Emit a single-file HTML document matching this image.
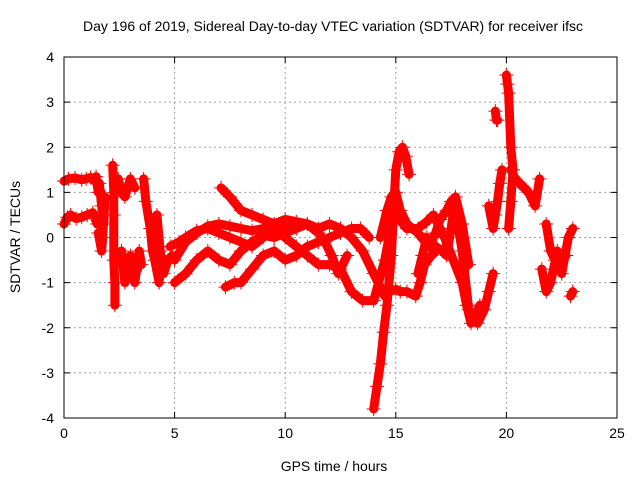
<!DOCTYPE html>
<html><head><meta charset="utf-8"><style>
body{margin:0;background:#fff}
svg{display:block;font-family:"Liberation Sans",sans-serif}
</style></head><body>
<svg id="chart" width="640" height="480">
<text x="333" y="31" font-size="14" text-anchor="middle">Day 196 of 2019, Sidereal Day-to-day VTEC variation (SDTVAR) for receiver ifsc</text>
<text x="334" y="471" font-size="14" text-anchor="middle">GPS time / hours</text>
<text transform="translate(20,237) rotate(-90)" font-size="14" text-anchor="middle">SDTVAR / TECUs</text>
<g id="grid"></g><g id="ticks"></g><g id="marks"></g>
<rect x="64" y="57" width="553" height="361" fill="none" stroke="#000" stroke-width="1"/>
</svg>
<script>
const xTicks=[0,5,10,15,20,25];
const yTicks=[-4,-3,-2,-1,0,1,2,3,4];
const trackA=[[0,1.25],[0.2,1.3],[0.5,1.32],[0.8,1.28],[1,1.3],[1.2,1.33],[1.4,1.25]];
const trackB=[[0,0.3],[0.15,0.45],[0.3,0.5],[0.55,0.42],[0.8,0.45],[1.05,0.5],[1.3,0.55],[1.5,0.3]];
const trackC=[[1.45,1.35],[1.55,1.0],[1.6,1.2],[1.7,0.7],[1.8,0.3],[1.85,0.9],[1.75,0.0],[1.7,-0.3],[1.55,0.1]];
const trackD=[[2.2,1.6],[2.25,1.0],[2.25,0.5],[2.25,-0.5],[2.3,-1.0],[2.3,-1.5]];
const trackE=[[2.45,1.3],[2.6,1.0],[2.75,0.9],[3.0,1.3],[3.2,1.1]];
const trackF=[[2.6,-0.3],[2.75,-1.0],[2.9,-0.7],[3.0,-0.4],[3.2,-1.0],[3.4,-0.3],[3.5,-0.6]];
const trackG=[[3.6,1.3],[3.7,0.8],[3.9,0.2],[4.0,-0.3],[4.1,-0.5],[4.3,-1.0]];
const trackH=[[4.2,0.5],[4.35,-0.3],[4.5,-0.8],[4.7,-0.5],[4.9,-0.4]];
const trackT1=[[5,-1.0],[5.5,-0.8],[6,-0.5],[6.5,-0.3],[7,-0.5],[7.5,-0.6],[8,-0.3],[8.5,-0.1],[9,0.05],[9.5,0.0],[10,0.1],[10.5,0.2],[11,0.3],[11.5,0.2],[12,0.3],[12.5,0.2],[13,0.0],[13.5,-0.3],[14,-0.8],[14.5,-1.3]];
const trackT2=[[7.3,-1.1],[7.7,-1.0],[8,-1.0],[8.5,-0.7],[9,-0.4],[9.5,-0.3],[10,-0.5],[10.5,-0.4],[11,-0.2],[11.5,-0.1],[12,0.0],[12.5,0.1],[13,0.2],[13.4,0.2],[13.8,0.0]];
const trackT3=[[4.8,-0.2],[5.2,-0.1],[5.5,0.0],[6,0.15],[6.5,0.2],[7,0.1],[7.5,0.0],[8,-0.1],[8.5,-0.2],[9,0.0],[9.5,0.2],[10,0.0],[10.5,-0.2],[11,-0.4],[11.5,-0.6],[12,-0.6],[12.5,-0.7],[13,-1.2],[13.5,-1.4],[14,-1.4],[14.5,-0.5],[15,0.8],[15.5,0.3]];
const trackT4=[[5,-0.5],[5.5,-0.1],[6,0.1],[6.5,0.25],[7,0.3],[7.5,0.25],[8,0.2],[8.5,0.15],[9,0.2],[9.5,0.3],[10,0.4],[10.5,0.35],[11,0.3],[11.5,0.1],[11.8,-0.1],[12.1,-0.4],[12.4,-0.8],[12.8,-0.4]];
const trackT5=[[7.1,1.1],[7.5,0.9],[8,0.6],[8.5,0.5],[9,0.4],[9.5,0.3],[10,0.2],[10.5,0.2]];
const trackBig=[[14,-3.8],[14.15,-3.3],[14.3,-2.8],[14.45,-2.1],[14.6,-1.5],[14.8,-0.4],[14.9,0.6],[15,1.5],[15.15,1.9],[15.3,2.0],[15.45,1.8],[15.6,1.4]];
const trackLow=[[14.7,-1.2],[15,-1.15],[15.2,-1.2],[15.5,-1.2],[15.9,-1.3],[16.1,-1.0],[16.3,-0.6],[16.6,-0.4],[16.8,-0.3]];
const trackM1=[[14.3,0.0],[14.6,0.6],[14.8,0.9],[15,1.0],[15.2,0.6],[15.5,0.3],[16,0.1],[16.5,-0.2],[16.8,0.1],[17,0.4],[17.3,0.6],[17.5,0.8],[17.8,0.3],[18,-0.3],[18.3,-1.6],[18.5,-1.8],[18.7,-1.9],[19,-1.6],[19.2,-1.2],[19.4,-0.8]];
const trackM2=[[15,0.5],[15.5,0.2],[16,0.2],[16.4,0.35],[16.7,0.5],[17,0.2],[17.2,0.0],[17.6,-0.5],[18,-1.0],[18.2,-1.5],[18.4,-1.9],[18.8,-1.5]];
const trackM3=[[16,-0.8],[16.2,-0.4],[16.4,0.0],[16.8,-0.2],[17.1,-0.3],[17.3,-0.4],[17.5,0.2],[17.7,0.9],[18,0.3],[18.3,-0.6]];
const trackN1=[[19.2,0.7],[19.4,0.2],[19.5,0.5],[19.6,0.8],[19.7,1.2],[19.8,1.5]];
const trackN2=[[19.5,2.8],[19.55,2.6],[19.6,2.6]];
const trackN3=[[20,3.6],[20.05,3.4],[20.1,3.2],[20.2,2.0],[20.3,1.5],[20.2,0.8],[20.1,0.2]];
const trackN4=[[20.2,1.5],[20.4,1.3],[20.6,1.2],[20.8,1.1],[21,1.0],[21.3,0.7],[21.5,1.3]];
const trackP1=[[21.8,0.3],[22,-0.3],[22.2,-0.5],[22.5,-0.8],[22.8,0.0],[23,0.2]];
const trackP2=[[21.6,-0.7],[21.8,-1.2],[22,-1.0],[22.3,-0.3],[22.5,-0.5],[22.7,-0.4]];
const trackP3=[[22.9,-1.3],[23,-1.2]];
const tracks=[trackA,trackB,trackC,trackD,trackE,trackF,trackG,trackH,trackT1,trackT2,trackT3,trackT4,trackT5,trackBig,trackLow,trackM1,trackM2,trackM3,trackN1,trackN2,trackN3,trackN4,trackP1,trackP2,trackP3];

const NS='http://www.w3.org/2000/svg';
const X0=64,X1=617,Y0=418,Y1=57;
const xs=v=>X0+(v-0)/25*(X1-X0);
const ys=v=>Y0-(v+4)/8*(Y0-Y1);
function mk(tag,attrs,parent){const e=document.createElementNS(NS,tag);for(const k in attrs)e.setAttribute(k,attrs[k]);parent.appendChild(e);return e;}
const grid=document.getElementById('grid'),ticks=document.getElementById('ticks'),marks=document.getElementById('marks');
xTicks.forEach(t=>{
  const x=xs(t);
  if(t>0&&t<25){const g=mk('line',{x1:x,x2:x,y1:Y1,y2:Y0,stroke:'#a0a0a0','stroke-dasharray':'2,3'},grid);
  
  }
  mk('line',{x1:x,x2:x,y1:Y0,y2:Y0-6,stroke:'#000'},ticks);
  mk('line',{x1:x,x2:x,y1:Y1,y2:Y1+6,stroke:'#000'},ticks);
  const l=mk('text',{x:x,y:Y0+20,'font-size':14,'text-anchor':'middle'},ticks);l.textContent=t;
  
  
});
yTicks.forEach(t=>{
  const y=ys(t);
  if(t>-4&&t<4){const g=mk('line',{x1:X0,x2:X1,y1:y,y2:y,stroke:'#a0a0a0','stroke-dasharray':'2,3'},grid);
  
  }
  mk('line',{x1:X0,x2:X0+6,y1:y,y2:y,stroke:'#000'},ticks);
  mk('line',{x1:X1,x2:X1-6,y1:y,y2:y,stroke:'#000'},ticks);
  const l=mk('text',{x:X0-10,y:y+5,'font-size':14,'text-anchor':'end'},ticks);l.textContent=t;
  
  
});
tracks.forEach(tr=>{
  const pts=tr.map(p=>xs(p[0])+','+ys(p[1])).join(' ');
  const pl=mk('polyline',{points:pts,fill:'none',stroke:'#f00','stroke-width':9,'stroke-linejoin':'round','stroke-linecap':'round'},marks);
  
  
  tr.forEach(p=>{
    const x=xs(p[0]),y=ys(p[1]);
    const m=mk('path',{d:`M${x-7},${y}H${x+7}M${x},${y-7}V${y+7}`,stroke:'#f00','stroke-width':1},marks);
    
    
  });
});
</script>
</body></html>
